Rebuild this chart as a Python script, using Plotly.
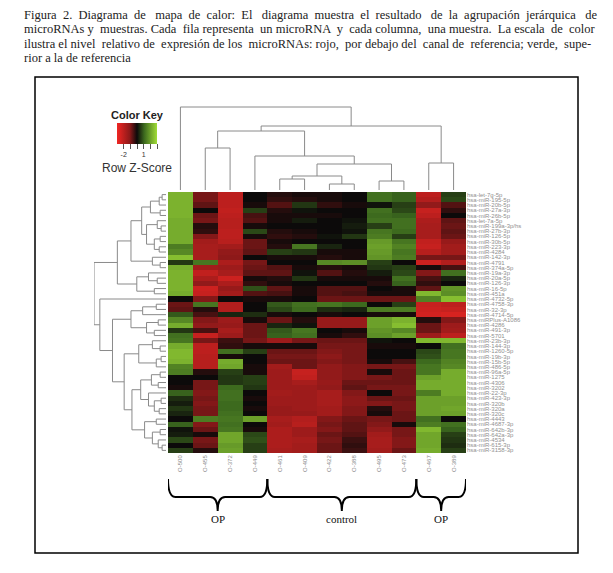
import plotly.graph_objects as go

# the page body keeps an 8px margin, so the figure is drawn 8px in from the corner
OFF = 8
W, H = 613 - OFF, 573 - OFF

caption_lines = [
    "Figura 2. Diagrama de mapa de calor: El diagrama muestra el resultado de la agrupación jerárquica de",
    "microRNAs y muestras. Cada fila representa un microRNA y cada columna, una muestra. La escala de color",
    "ilustra el nivel relativo de expresión de los microRNAs: rojo, por debajo del canal de referencia; verde, supe-",
    "rior a la de referencia",
]
# non-breaking spaces spread over each line to imitate the justified paragraph
caption_extra = [20, 9, 7, 0]

samples = ["O-500", "O-455", "O-372", "O-449", "O-461", "O-409",
           "O-422", "O-388", "O-495", "O-473", "O-467", "O-389"]

# (label, first column, last column)
groups = [("OP", 0, 3), ("control", 4, 9), ("OP", 10, 11)]

mirnas = [
    "hsa-let-7g-5p", "hsa-miR-195-5p", "hsa-miR-20b-5p", "hsa-miR-27a-3p", "hsa-miR-26b-5p",
    "hsa-let-7a-5p", "hsa-miR-199a-3p/hs", "hsa-miR-27b-3p", "hsa-miR-126-5p", "hsa-miR-30b-5p",
    "hsa-miR-223-3p", "hsa-miR-4284", "hsa-miR-142-3p", "hsa-miR-4791", "hsa-miR-374a-5p",
    "hsa-miR-19a-3p", "hsa-miR-20a-5p", "hsa-miR-126-3p", "hsa-miR-16-5p", "hsa-miR-451a",
    "hsa-miR-4732-5p", "hsa-miR-4758-3p", "hsa-miR-32-3p", "hsa-miR-4714-5p", "hsa-miRPlus-A1086",
    "hsa-miR-4286", "hsa-miR-491-3p", "hsa-miR-5701", "hsa-miR-23b-3p", "hsa-miR-144-3p",
    "hsa-miR-1260-5p", "hsa-miR-19b-3p", "hsa-miR-15b-5p", "hsa-miR-486-5p", "hsa-miR-96a-5p",
    "hsa-miR-1275", "hsa-miR-4306", "hsa-miR-3202", "hsa-miR-22-3p", "hsa-miR-423-3p",
    "hsa-miR-320b", "hsa-miR-320a", "hsa-miR-320c", "hsa-miR-4443", "hsa-miR-4687-3p",
    "hsa-miR-642b-3p", "hsa-miR-642a-3p", "hsa-miR-4534", "hsa-miR-615-3p", "hsa-miR-3158-3p",
]

# row z-scores, one row per microRNA, one value per sample
zscores = [
    [2.3, -0.9, -2.0, 0.0, -0.2, -0.1, -0.1, 0.0, 1.2, 1.0, -2.0, 0.6],
    [2.3, -0.9, -2.0, 0.0, -0.3, -0.2, -0.1, 0.0, 1.2, 1.0, -1.8, 0.7],
    [2.3, -0.7, -2.0, -0.1, -0.6, 0.5, -0.3, -0.1, 0.1, 0.6, -1.2, -0.6],
    [2.3, 0.0, -2.1, 0.6, -0.2, 0.1, 0.0, 0.0, 1.2, 0.7, -2.2, -0.3],
    [2.3, -0.8, -2.0, -0.5, -0.1, -0.1, -0.1, 0.0, 1.1, 1.0, -2.0, 0.0],
    [2.2, -0.9, -1.9, -0.6, -0.1, 0.2, 0.0, 0.1, 1.2, 1.2, -1.7, -0.7],
    [2.2, -0.2, -1.9, -0.1, 0.0, 0.0, 0.0, 0.2, 0.6, 1.2, -1.6, -0.8],
    [2.2, -0.3, -2.0, 0.7, -0.2, -0.1, 0.0, 0.1, 1.3, 1.1, -1.6, -0.7],
    [2.2, -1.0, -2.0, -0.1, -0.3, -0.2, 0.1, 0.5, 1.4, 0.6, -1.6, -0.8],
    [2.2, -1.5, -1.9, -0.8, -0.1, 0.0, 0.0, 0.0, 1.9, 1.3, -2.1, -1.3],
    [1.4, -1.6, -1.5, -0.8, -0.2, 1.3, 0.3, 0.0, 2.0, 1.5, -2.2, -1.5],
    [1.6, -1.6, -1.2, -0.7, 0.6, 0.5, -0.1, -0.1, 1.9, 1.3, -1.9, -1.5],
    [2.5, -1.6, -1.1, 0.0, -0.1, -0.1, -0.2, -0.1, 1.8, 1.4, -0.9, -0.9],
    [0.5, 1.3, -1.7, -0.9, 0.0, 0.0, 1.6, 1.7, 0.6, 0.0, -2.3, -1.8],
    [2.2, -1.5, -1.4, -0.8, -0.6, -0.1, -0.2, -0.1, 0.5, 0.6, -0.1, -0.5],
    [2.3, -2.1, -1.6, -0.7, -0.7, 0.1, -0.6, -0.2, 0.2, 0.7, -1.0, 1.2],
    [2.3, -1.7, -2.3, -0.1, -0.2, 0.5, -0.1, -0.1, -0.1, 1.2, -0.5, 0.3],
    [2.3, -1.2, -1.7, -0.3, -0.1, 0.0, 0.0, 0.0, -0.2, 1.0, -0.3, 0.0],
    [2.3, -2.3, -1.3, 0.8, -0.7, -0.1, -0.6, -0.6, 0.0, -0.1, -0.7, 1.8],
    [2.2, -2.2, -1.5, -0.6, -0.5, -0.1, -0.6, -0.5, -0.1, -0.1, 2.4, 1.7],
    [0.0, -1.0, 0.0, -0.1, -0.1, 0.0, -0.8, -0.8, -0.8, -0.8, 1.5, 2.5],
    [-0.8, 1.3, -1.8, 0.0, 0.9, 1.2, 1.3, 1.1, 0.0, 0.6, -2.2, -2.0],
    [-0.7, -0.2, -1.8, 0.0, 0.7, 1.1, 0.4, 0.3, 1.4, 1.4, -2.3, -2.2],
    [0.9, -0.5, 0.3, 0.4, -0.1, 0.0, -0.1, 0.0, -0.1, -0.1, -2.4, -2.5],
    [1.6, -1.0, -1.4, -0.1, -0.8, -0.2, -1.3, -1.3, 2.0, 2.3, -0.2, -1.0],
    [2.2, -1.2, -1.3, -0.8, 0.3, 0.1, -1.3, -1.3, 2.0, 2.5, -0.8, -1.4],
    [0.5, -0.5, -1.6, -0.8, 0.9, 1.3, 0.0, -0.1, 1.8, 1.6, -0.8, -1.5],
    [1.2, -2.2, -1.4, -0.8, 1.0, 1.2, -0.1, -0.3, 1.7, 2.0, -1.4, -2.0],
    [1.3, -0.9, -0.4, -0.9, -1.4, -0.9, -0.8, -0.8, 0.1, 0.0, 2.4, 2.4],
    [2.2, -2.0, -0.3, -0.1, -0.1, -0.1, -0.9, -0.9, -0.1, -0.1, 0.0, 1.2],
    [2.4, -2.0, 1.2, 0.6, -0.8, -0.8, -1.0, -0.9, 0.0, 0.0, 0.7, 1.3],
    [2.4, -1.9, -0.1, 0.0, -0.9, -0.9, -1.1, -0.9, 0.0, 0.0, 0.8, 1.3],
    [2.3, -1.9, 2.2, 0.0, -0.8, -0.8, -1.0, -0.9, -0.1, -0.5, 1.1, 1.5],
    [1.5, -1.9, 2.1, -0.1, -1.5, -0.8, -1.2, -1.0, -0.9, -0.9, 1.3, 1.6],
    [1.4, -0.2, 0.6, -0.1, -1.4, -2.2, -1.2, -1.0, -0.1, -0.8, 1.3, 2.2],
    [0.0, 0.0, 0.5, 0.6, -1.4, -2.1, -1.2, -1.0, -0.9, -0.8, 2.0, 2.2],
    [0.0, -0.9, 0.5, 0.6, -1.4, -1.6, -1.3, -0.8, -0.8, -0.8, 2.2, 2.2],
    [-0.1, -0.9, 1.1, 0.5, -1.4, -1.4, -1.2, -0.7, -0.9, -0.9, 2.2, 2.2],
    [1.0, -1.0, 1.2, 0.0, -1.5, -1.4, -1.6, -1.0, 0.0, -0.9, 1.4, 2.2],
    [0.4, -0.9, 1.2, -0.1, -1.4, -1.4, -1.6, -1.1, -0.8, -0.8, 2.0, 2.0],
    [0.2, -1.0, 1.1, 0.0, -1.4, -1.4, -1.6, -1.1, -1.0, -0.9, 2.0, 2.0],
    [0.5, -0.9, 1.1, -0.1, -1.3, -1.4, -1.5, -1.0, -0.2, -0.9, 2.0, 2.1],
    [0.3, -0.9, 1.2, 0.0, -1.3, -1.3, -1.5, -1.0, -0.1, -0.8, 2.0, 2.0],
    [0.0, 1.4, 1.3, 2.0, -1.6, -1.8, -1.0, -0.8, -0.9, -0.8, 1.2, 0.0],
    [1.0, -1.0, 1.2, 0.0, -1.5, -1.9, -0.9, -0.7, -1.0, -0.1, 1.4, 1.2],
    [0.1, -0.8, 1.3, -0.1, -1.7, -1.4, -1.0, -0.7, -1.2, -0.9, 2.4, 1.0],
    [0.2, -0.1, 2.1, 0.7, -1.7, -1.4, -0.8, -0.6, -1.5, -0.9, 2.1, 0.6],
    [0.7, -0.9, 2.1, 0.8, -1.7, -1.6, -0.9, -0.4, -1.6, -1.0, 2.1, 0.5],
    [0.0, -0.8, 1.9, 0.6, -1.7, -1.5, -0.8, -0.3, -1.6, -1.0, 2.1, 0.4],
    [0.6, -0.2, 2.0, 0.6, -1.6, -1.5, -0.8, -0.4, -1.5, -0.8, 2.2, 0.6],
]

# dendrograms as nested [height, left, right]; leaves are row/column indices
col_tree = [83, 0, [64, [59, [42, 1, 2], [34, 3, [26, [14, [11, 4, 5], [6, 6, 7]], [9, 8, 9]]]],
                    [27, 10, 11]]]

row_tree = [74,
            [50,
             [36,
              [25, [16, [7, [4, 0, 1], 2], [6, 3, 4]],
                   [20, [9, 5, [5, 6, 7]], [12, [6, 8, 9], [7, 10, 11]]]],
              [14, 12, [6, 13, 14]]],
             [30, [18, 15, [9, 16, 17]], [12, 18, 19]]],
            [68, 20,
             [55,
              [36, [24, [10, 21, 22], 23], [20, [8, 24, 25], [12, 26, 27]]],
              [43,
               [28, [14, 28, [6, 29, 30]], [10, [5, 31, 32], 33]],
               [35,
                [26, [15, [6, 34, 35], [8, 36, 37]], [18, 38, [12, [5, 39, 40], [7, 41, 42]]]],
                [22, [10, 43, 44], [14, [6, 45, 46], [8, 47, [4, 48, 49]]]]]]]]]


# page pixels -> paper fractions
def px(x):
    return (x - OFF) / W


def py(y):
    return 1 - (y - OFF) / H


def justify(line, extra):
    words = line.split(" ")
    gaps = len(words) - 1
    out = words[0]
    for i, w in enumerate(words[1:]):
        n = extra * (i + 1) // gaps - extra * i // gaps
        out += " " + "\u00a0" * n + w
    return out


def dendro_lines(tree):
    pos, hgt = [], []

    def walk(node):
        if isinstance(node, int):
            return float(node), 0.0
        h, left, right = node
        pl, hl = walk(left)
        pr, hr = walk(right)
        pos.extend([pl, pl, pr, pr, None])
        hgt.extend([hl, h, h, hr, None])
        return (pl + pr) / 2, h

    walk(tree)
    return pos, hgt


fig = go.Figure()

fig.add_trace(go.Heatmap(
    z=zscores, x=list(range(len(samples))), y=list(range(len(mirnas))),
    coloraxis="coloraxis", hoverinfo="skip",
))

rpos, rh = dendro_lines(row_tree)
fig.add_trace(go.Scatter(x=rh, y=rpos, mode="lines", xaxis="x2", yaxis="y2",
                         line=dict(color="#8a8a8a", width=1), hoverinfo="skip"))

cpos, ch = dendro_lines(col_tree)
fig.add_trace(go.Scatter(x=cpos, y=ch, mode="lines", xaxis="x3", yaxis="y3",
                         line=dict(color="#8a8a8a", width=1), hoverinfo="skip"))

n_rows, n_cols = len(mirnas), len(samples)
hm_x = [px(168), px(466)]
hm_y = [py(453), py(192)]

shapes = [dict(type="rect", xref="paper", yref="paper",
               x0=px(35), x1=px(578), y0=py(553), y1=py(77),
               line=dict(color="black", width=1.5))]

annotations = []
for i, line in enumerate(caption_lines):
    annotations.append(dict(
        text=justify(line, caption_extra[i]), xref="paper", yref="paper",
        x=px(22), y=py(15 + i * 14.3),
        xanchor="left", yanchor="middle", showarrow=False,
        font=dict(family="Liberation Serif", size=12.5, color="#222"),
    ))

# curly braces under the column groups
yt, yb, ytip = py(479), py(497), py(511)
d = 0.3
for label, c0, c1 in groups:
    xa, xb = c0 - 0.5, c1 + 0.5
    xm = (xa + xb) / 2
    path = (f"M{xa},{yt} Q{xa},{yb} {xa + d},{yb} L{xm - d},{yb} "
            f"Q{xm},{yb} {xm},{ytip} Q{xm},{yb} {xm + d},{yb} "
            f"L{xb - d},{yb} Q{xb},{yb} {xb},{yt}")
    shapes.append(dict(type="path", xref="x", yref="paper", path=path,
                       line=dict(color="black", width=2)))
    annotations.append(dict(
        text=label, xref="x", yref="paper", x=xm, y=py(519),
        xanchor="center", yanchor="middle", showarrow=False,
        font=dict(family="Liberation Serif", size=11, color="#111"),
    ))

annotations.append(dict(
    text="Row Z-Score", xref="paper", yref="paper", x=px(137), y=py(168),
    xanchor="center", yanchor="middle", showarrow=False,
    font=dict(family="Liberation Sans", size=12, color="#333"),
))

fig.update_layout(
    width=W, height=H,
    margin=dict(l=0, r=0, t=0, b=0),
    paper_bgcolor="white", plot_bgcolor="white",
    showlegend=False,
    coloraxis=dict(
        cmin=-3, cmax=3,
        colorscale=[
            [0.0, "rgb(240,38,35)"],
            [0.32, "rgb(140,25,25)"],
            [0.5, "rgb(12,10,10)"],
            [0.68, "rgb(60,105,30)"],
            [1.0, "rgb(160,220,55)"],
        ],
        colorbar=dict(
            orientation="h",
            x=px(137), xanchor="center",
            y=py(111), yanchor="top",
            len=40, lenmode="pixels",
            thickness=21, thicknessmode="pixels",
            xpad=0, ypad=0, outlinewidth=0,
            tickvals=[-2, -1, 0, 1, 2, 3],
            ticktext=["-2", "", "", "1", "", ""],
            ticks="outside", ticklen=5, tickwidth=1, tickcolor="#555",
            tickfont=dict(family="Liberation Sans", size=7, color="#333"),
            title=dict(text="<b>Color Key</b>", side="top",
                       font=dict(family="Liberation Sans", size=11, color="#222")),
        ),
    ),
    xaxis=dict(
        domain=hm_x, range=[-0.5, n_cols - 0.5], anchor="y",
        tickvals=list(range(n_cols)), ticktext=samples, tickangle=-90,
        tickfont=dict(family="Liberation Sans", size=6, color="#888"),
        showgrid=False, zeroline=False, ticks="",
    ),
    yaxis=dict(
        domain=hm_y, range=[n_rows - 0.5, -0.5], anchor="x", side="right",
        tickvals=list(range(n_rows)), ticktext=mirnas,
        tickfont=dict(family="Liberation Sans", size=6, color="#909090"),
        showgrid=False, zeroline=False, ticks="",
    ),
    xaxis2=dict(domain=[px(94), px(166)], range=[74, 0], anchor="y2", visible=False),
    yaxis2=dict(domain=hm_y, range=[n_rows - 0.5, -0.5], anchor="x2", visible=False),
    xaxis3=dict(domain=hm_x, range=[-0.5, n_cols - 0.5], anchor="y3", visible=False),
    yaxis3=dict(domain=[py(190), py(105)], range=[0, 85], anchor="x3", visible=False),
    shapes=shapes,
    annotations=annotations,
)

fig.write_html("out.html")
